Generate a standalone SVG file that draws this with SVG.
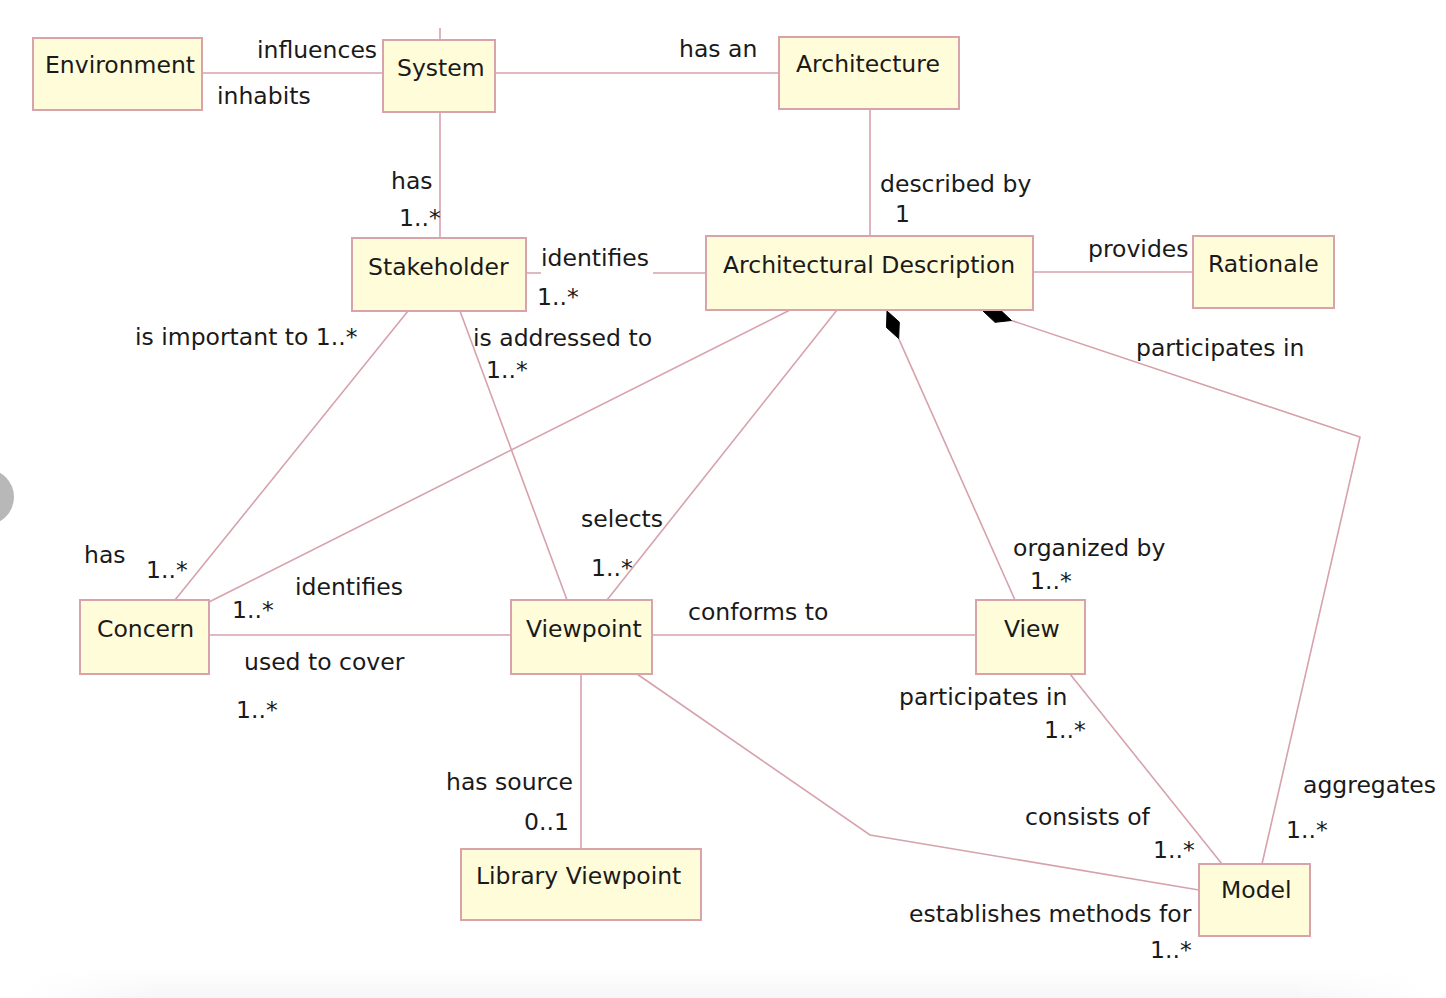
<svg xmlns="http://www.w3.org/2000/svg" width="1446" height="998" viewBox="0 0 1446 998">
<style>
.box{fill:#FFFCD9;stroke:#D9A3AB;stroke-width:2}
.lbl{font-family:"DejaVu Sans","Liberation Sans",sans-serif;font-size:23.5px;fill:#1a1a1a}
.ln{fill:none;stroke:#D6A2AC;stroke-width:1.6}
.dia{fill:#000;stroke:#000;stroke-width:1;stroke-linejoin:round}
</style>
<defs>
<linearGradient id="shade" x1="0" y1="0" x2="0" y2="1">
<stop offset="0" stop-color="#ffffff"/>
<stop offset="1" stop-color="#f6f6f6"/>
</linearGradient>
<linearGradient id="fadeX" x1="0" y1="0" x2="1" y2="0">
<stop offset="0" stop-color="#fff" stop-opacity="1"/>
<stop offset="0.1" stop-color="#fff" stop-opacity="0"/>
<stop offset="0.9" stop-color="#fff" stop-opacity="0"/>
<stop offset="1" stop-color="#fff" stop-opacity="1"/>
</linearGradient>
</defs>
<rect x="0" y="0" width="1446" height="998" fill="#ffffff"/>
<rect x="20" y="968" width="1410" height="30" fill="url(#shade)"/>
<rect x="20" y="968" width="1410" height="30" fill="url(#fadeX)"/>
<circle cx="-14" cy="497" r="28" fill="#b8b8b8"/>

<g id="connectors">
<path class="ln" d="M440 28 V40"/>
<path class="ln" d="M202 73 H383"/>
<path class="ln" d="M495 73 H779"/>
<path class="ln" d="M440 112 V238"/>
<path class="ln" d="M870 109 V236"/>
<path class="ln" d="M526 273 H541 M653 273 H706"/>
<path class="ln" d="M1033 272 H1193"/>
<path class="ln" d="M408 311 L175 600"/>
<path class="ln" d="M460 311 L567 600"/>
<path class="ln" d="M790 310 L209 602"/>
<path class="ln" d="M837 310 L607 600"/>
<path class="ln" d="M898.7 338.6 L1015 600"/>
<polygon class="dia" points="887,311 899.3,322.1 898.7,338.6 886.5,327.5"/>
<path class="ln" d="M1011.5 320.5 L1360 437 L1262 864"/>
<polygon class="dia" points="983,311 999.4,309.1 1011.5,320.5 995,322.3"/>
<path class="ln" d="M209 635 H511"/>
<path class="ln" d="M652 635 H976"/>
<path class="ln" d="M581 674 V849"/>
<path class="ln" d="M637 674 L870 835 L1199 890"/>
<path class="ln" d="M1070 674 L1222 864"/>
</g>

<g id="environment"><rect class="box" x="33" y="38" width="169" height="72"/><text class="lbl" x="45" y="73">Environment</text></g>
<g id="system"><rect class="box" x="383" y="40" width="112" height="72"/><text class="lbl" x="397" y="76">System</text></g>
<g id="architecture"><rect class="box" x="779" y="37" width="180" height="72"/><text class="lbl" x="796" y="72">Architecture</text></g>
<g id="stakeholder"><rect class="box" x="352" y="238" width="174" height="73"/><text class="lbl" x="368" y="275">Stakeholder</text></g>
<g id="architectural-description"><rect class="box" x="706" y="236" width="327" height="74"/><text class="lbl" x="723" y="273">Architectural Description</text></g>
<g id="rationale"><rect class="box" x="1193" y="236" width="141" height="72"/><text class="lbl" x="1208" y="272">Rationale</text></g>
<g id="concern"><rect class="box" x="80" y="600" width="129" height="74"/><text class="lbl" x="97" y="637">Concern</text></g>
<g id="viewpoint"><rect class="box" x="511" y="600" width="141" height="74"/><text class="lbl" x="526" y="637">Viewpoint</text></g>
<g id="view"><rect class="box" x="976" y="600" width="109" height="74"/><text class="lbl" x="1004" y="637">View</text></g>
<g id="library-viewpoint"><rect class="box" x="461" y="849" width="240" height="71"/><text class="lbl" x="476" y="884">Library Viewpoint</text></g>
<g id="model"><rect class="box" x="1199" y="864" width="111" height="72"/><text class="lbl" x="1221" y="898">Model</text></g>

<g id="labels" class="lbl">
<text x="257" y="58">influences</text>
<text x="217" y="104">inhabits</text>
<text x="679" y="57">has an</text>
<text x="391" y="189">has</text>
<text x="399" y="226">1..*</text>
<text x="880" y="192">described by</text>
<text x="895" y="222">1</text>
<text x="541" y="266">identifies</text>
<text x="537" y="305">1..*</text>
<text x="1088" y="257">provides</text>
<text x="135" y="345">is important to 1..*</text>
<text x="473" y="346">is addressed to</text>
<text x="486" y="378">1..*</text>
<text x="1136" y="356">participates in</text>
<text x="581" y="527">selects</text>
<text x="591" y="576">1..*</text>
<text x="1013" y="556">organized by</text>
<text x="1030" y="589">1..*</text>
<text x="84" y="563">has</text>
<text x="146" y="578">1..*</text>
<text x="295" y="595">identifies</text>
<text x="232" y="618">1..*</text>
<text x="244" y="670">used to cover</text>
<text x="236" y="718">1..*</text>
<text x="688" y="620">conforms to</text>
<text x="899" y="705">participates in</text>
<text x="1044" y="738">1..*</text>
<text x="446" y="790">has source</text>
<text x="524" y="830">0..1</text>
<text x="1025" y="825">consists of</text>
<text x="1153" y="858">1..*</text>
<text x="1303" y="793">aggregates</text>
<text x="1286" y="838">1..*</text>
<text x="909" y="922">establishes methods for</text>
<text x="1150" y="958">1..*</text>
</g>
</svg>
